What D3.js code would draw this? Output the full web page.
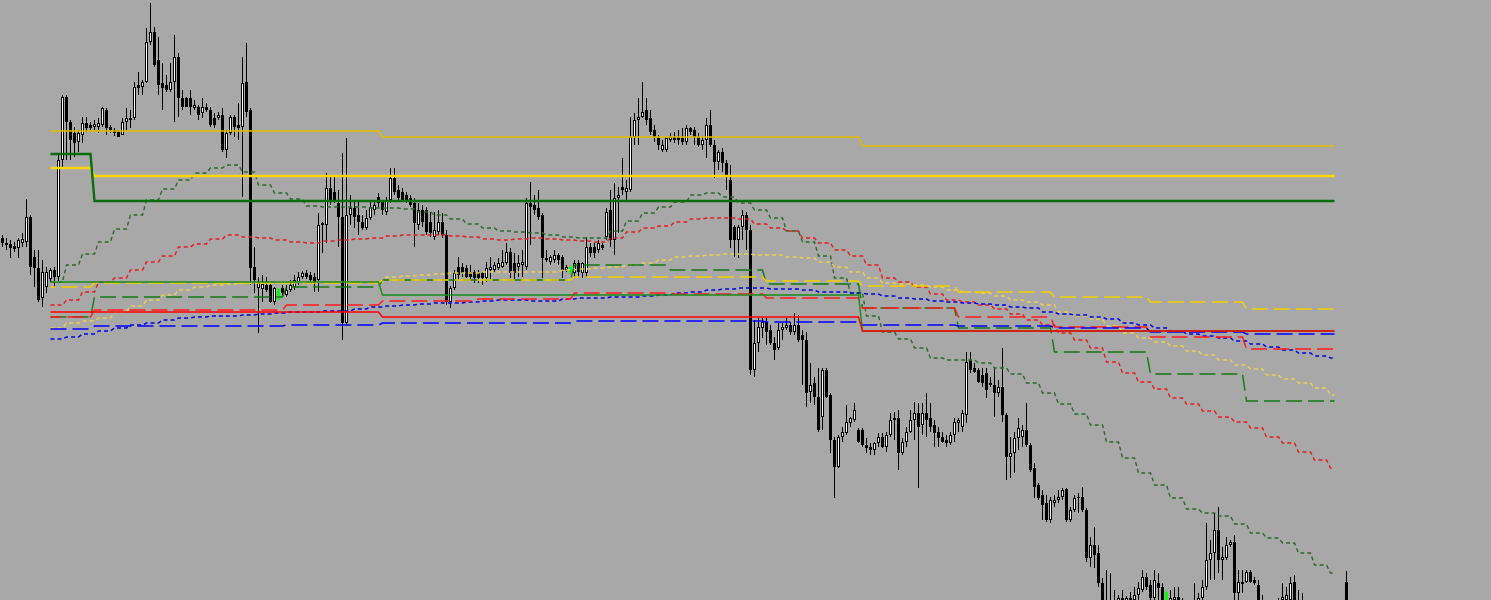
<!DOCTYPE html>
<html><head><meta charset="utf-8">
<script src="https://cdn.jsdelivr.net/npm/d3@7"></script>
<style>html,body{margin:0;padding:0;background:#a8a8a8;overflow:hidden}</style>
</head><body>
<svg id="c" width="1491" height="600"></svg>
<script>
// candles: [open, high, low, close]
const candles = [
[362,365,353,357],[355,362,350,357],[356,360,342,352],[354,358,348,351],[352,362,342,360],[357,367,353,361],[358,401,353,383],[383,385,325,333],[343,350,313,332],[332,350,298,300],
[302,340,293,328],[313,333,307,328],[321,332,318,330],[330,333,313,323],[323,445,318,440],[440,505,432,503],[503,505,440,478],[478,480,440,460],[467,473,443,457],[458,470,448,467],
[465,483,457,477],[477,483,468,472],[475,478,470,472],[473,480,470,476],[473,482,467,477],[475,493,473,492],[490,492,465,472],[473,475,467,470],[470,472,464,467],[468,470,463,463],
[465,482,465,478],[478,492,470,482],[480,490,472,482],[482,518,480,513],[515,528,505,512],[513,520,505,518],[518,572,517,558],[558,597,555,568],[568,573,533,535],[540,563,505,515],
[517,537,490,512],[515,525,508,510],[510,537,508,518],[518,565,478,543],[543,547,483,502],[502,510,490,493],[502,503,493,493],[502,510,485,493],[492,500,490,495],[493,495,480,485],
[487,502,482,493],[493,497,488,490],[490,493,473,475],[482,487,472,475],[482,488,480,485],[485,492,448,450],[450,470,442,467],[467,485,465,483],[483,485,463,473],[475,497,460,472],
[473,543,403,517],[518,557,483,488],[490,492,315,332],[333,353,307,320],[312,323,267,317],[311,325,298,316],[315,323,308,310],[315,317,297,298],[298,313,295,312],[300,312,300,311],
[312,315,303,307],[305,315,303,310],[310,320,308,315],[313,325,310,320],[318,328,315,323],[323,329,321,327],[327,330,321,323],[325,328,317,320],[323,327,308,318],[320,387,308,375],
[375,378,347,377],[375,427,357,412],[412,425,395,400],[408,425,397,400],[397,410,353,383],[383,447,260,277],[277,462,275,385],[385,405,375,392],[392,400,372,383],[385,400,365,378],
[378,385,370,372],[372,390,370,382],[382,400,380,393],[390,400,385,395],[403,407,393,397],[398,400,385,390],[388,403,385,400],[400,432,397,422],[422,432,405,408],[410,415,400,402],
[408,412,398,400],[405,408,397,400],[402,405,393,395],[397,402,353,377],[375,397,370,390],[390,395,373,378],[390,393,365,368],[378,388,363,367],[363,388,360,370],[368,390,365,378],
[378,387,362,365],[365,370,295,298],[298,314,292,312],[312,330,310,327],[333,343,320,325],[333,337,323,327],[332,335,322,323],[328,335,320,323],[328,330,317,322],[327,330,317,322],
[327,328,315,322],[322,338,318,332],[330,343,320,333],[330,338,328,335],[332,342,330,337],[333,350,332,338],[337,357,335,348],[348,352,322,327],[337,347,320,327],[333,345,323,337],
[335,350,323,338],[333,402,330,397],[397,418,355,393],[395,405,385,390],[392,410,380,383],[385,387,322,342],[342,350,338,340],[338,345,335,343],[340,350,337,345],[345,347,335,340],
[343,345,322,330],[330,335,328,333],[328,335,325,333],[327,340,322,337],[337,340,322,328],[327,338,322,337],[327,363,323,353],[353,357,343,347],[353,357,342,347],[350,360,347,357],
[355,357,350,352],[363,392,360,388],[390,410,353,360],[360,417,345,402],[402,413,367,405],[413,442,405,410],[408,420,400,412],[410,483,408,463],[463,487,455,480],[480,502,455,483],
[483,518,482,488],[490,502,475,480],[482,490,465,468],[470,475,458,463],[462,465,450,455],[450,460,448,455],[450,463,448,462],[460,467,458,463],[463,468,457,460],[463,470,455,460],
[462,472,455,458],[458,475,455,472],[472,473,465,468],[470,473,455,463],[463,467,453,455],[455,463,450,460],[460,482,442,475],[475,490,453,455],[455,460,422,438],[438,450,430,448],
[448,452,428,437],[437,440,410,423],[420,435,352,360],[373,375,343,360],[360,375,342,373],[373,390,360,385],[385,388,350,370],[370,375,225,230],[230,280,223,257],[257,282,248,273],
[272,282,262,278],[278,282,255,268],[270,275,255,257],[257,263,240,250],[252,277,250,270],[270,277,260,273],[272,282,270,275],[275,278,265,268],[268,287,265,275],[275,285,258,260],
[265,270,215,260],[260,268,193,207],[208,237,197,215],[217,223,195,203],[203,232,168,170],[183,232,170,230],[230,232,202,203],[205,207,147,160],[160,163,102,133],[133,165,132,163],
[163,173,158,168],[167,195,165,178],[177,183,173,182],[180,197,178,190],[170,172,157,158],[170,172,153,155],[155,162,147,152],[153,157,145,150],[150,158,145,157],[157,167,153,163],
[163,167,152,153],[153,168,148,165],[165,187,163,180],[180,188,160,182],[182,190,130,147],[147,162,145,158],[158,173,153,168],[168,190,167,180],[180,198,160,187],[187,197,112,173],
[175,197,165,187],[187,207,163,180],[182,197,168,173],[175,180,153,167],[168,173,153,162],[163,168,157,158],[160,165,153,157],[157,168,155,165],[165,182,158,178],[177,182,168,180],
[173,190,168,187],[185,248,177,238],[240,248,227,230],[232,237,227,228],[230,232,217,218],[225,232,213,217],[227,232,202,210],[215,223,213,217],[215,233,183,207],[207,220,203,213],
[213,252,178,185],[185,187,120,143],[143,163,122,147],[147,168,127,162],[162,182,150,172],[163,175,153,170],[170,197,153,155],[155,157,128,130],[132,137,102,113],[115,117,100,102],
[105,110,80,95],[97,105,78,80],[80,103,77,100],[97,105,93,100],[100,110,97,103],[103,112,100,110],[111,112,78,80],[80,93,78,90],[90,105,88,102],[103,107,87,102],
[103,113,88,90],[90,92,38,42],[42,63,33,55],[55,73,32,45],[47,55,13,17],[17,22,-10,-5],[0,30,-20,-12],[-3,27,-18,-10],[-8,10,-15,0],[-2,5,-12,2],
[2,10,-15,-5],[-5,4,-12,2],[2,8,-10,-4],[0,13,-5,5],[5,18,0,12],[10,30,8,23],[23,27,10,13],[15,20,0,2],[2,30,0,20],[17,27,0,12],
[13,17,-5,0],[0,10,-5,8],[-3,10,-10,2],[0,13,-5,3],[3,13,-10,-3],[-3,2,-15,-10],[-8,0,-20,-14],[-15,-2,-20,-6],[-6,17,-10,0],[-2,7,-5,2],
[2,20,0,13],[13,77,10,40],[40,60,20,47],[47,87,20,70],[70,93,27,40],[40,53,20,43],[42,63,40,55],[55,60,53,58],[58,65,0,7],[7,30,0,18],
[17,30,7,18],[18,30,17,28],[28,30,17,18],[20,23,15,17],[15,20,-5,0],[0,5,-15,-10],[-8,0,-20,-15],[-15,-5,-20,-10],[-12,0,-18,-5],[-6,2,-12,0],
[0,17,-5,3],[0,13,-5,5],[0,23,-2,17],[18,25,-5,0],[0,10,-12,-8],[-5,7,-18,-12],[-12,-5,-25,-18],[-18,-10,-30,-22],[-22,-12,-32,-15],[-15,-8,-28,-25],
[-25,-15,-35,-20],[-20,-12,-30,-28],[-28,-18,-38,-22],[-22,-15,-32,-30],[-30,-20,-40,-26],[-26,-18,-36,-18],[18,29,-15,-10]
];
const limeBars = [69, 142, 291];

// level lines: one value per session, sessions start at these bars
const segStarts = [12,23,47,71,95,119,143,167,191,215,239,263,287,311];
const segEnd = 333;
const goldThin    = [469,469,469,469,463,463,463,463,463,454,454,454,454,454];
const yellowThick = [432,424,424,424,424,424,424,424,424,424,424,424,424,424];
const greenThick  = [446,399,399,399,399,399,399,399,399,399,399,399,399,399];
const greenSolid  = [318,318,318,318,305,305,305,305,305,269,269,269,269,269];
const redSolid    = [288,288,288,288,283,283,283,283,283,269,269,269,269,269];
const redDash     = [283,290,290,295,299,301,307,306,302,292,283,273,263,251];
const blueDash    = [271,274,274,275,277,277,279,279,278,275,274,272,268,266];
const yellowDash  = [313,317,317,317,320,320,323,323,319,314,308,303,298,291];
const greenDash   = [283,303,303,313,320,320,335,330,316,292,272,248,226,199];

// moving averages from a higher timeframe: one value per 4 bars from bar 12
const dotStart = 12, dotStep = 4;
const greenDot = [318,335,346,358,371,385,400,411,420,427,432,435,428,415,407,401,394,393,393,393,392,392,391,388,385,381,376,372,369,368,367,365,363,362,362,369,379,387,393,398,405,407,403,397,390,382,369,358,344,322,307,284,268,261,252,242,240,240,237,232,226,217,207,196,186,175,158,142,127,115,102,91,87,84,76,67,62,57,47,35,27];
const redDot = [295,300,308,318,322,330,338,344,353,356,361,365,363,362,360,358,357,359,360,361,362,364,365,365,365,364,363,361,360,361,362,361,360,359,358,362,368,372,374,378,381,382,382,381,376,372,369,362,357,350,344,335,322,318,313,306,300,298,295,291,286,280,275,267,260,252,238,227,218,211,202,196,189,183,178,172,163,157,148,140,132];
const yellowDot = [272,277,279,282,288,294,300,305,310,313,315,316,317,317,317,318,318,318,318,318,318,323,324,325,326,327,327,328,328,328,328,328,330,331,332,333,335,337,340,343,344,345,346,346,345,345,343,342,338,333,328,322,317,316,315,313,310,308,307,304,300,298,295,288,284,281,274,267,262,258,254,249,245,240,235,231,225,221,217,212,205];
const blueDot = [261,263,266,269,272,275,277,280,282,283,284,284,285,286,287,288,288,289,289,291,293,294,295,296,297,297,298,299,300,300,299,299,301,302,302,303,303,304,305,307,308,310,311,312,312,311,311,310,308,308,307,306,304,302,301,299,298,297,296,295,293,292,288,286,285,283,281,277,275,272,269,266,264,262,259,256,253,250,247,244,242];

const W = 1491, H = 600;
const x = d3.scaleLinear().domain([0, candles.length - 1]).range([2, 1346]);
const y = d3.scaleLinear().domain([0, 600]).range([600, 0]);
const svg = d3.select('#c');
svg.append('rect').attr('width', W).attr('height', H).attr('fill', '#a8a8a8');

// candles
const cd = candles.map((d, i) => ({i, o: d[0], h: d[1], l: d[2], c: d[3], lime: limeBars.includes(i)}));
const gC = svg.append('g').attr('shape-rendering', 'crispEdges');
gC.selectAll('line.wick').data(cd).join('line').attr('class', 'wick')
  .attr('x1', d => Math.round(x(d.i)) + 0.5).attr('x2', d => Math.round(x(d.i)) + 0.5)
  .attr('y1', d => y(d.h)).attr('y2', d => y(d.l))
  .attr('stroke', d => d.lime ? '#00ff00' : '#000').attr('stroke-width', 1);
gC.selectAll('rect.bear').data(cd.filter(d => d.c < d.o)).join('rect').attr('class', 'bear')
  .attr('x', d => Math.round(x(d.i)) - 1).attr('width', 3)
  .attr('y', d => y(d.o)).attr('height', d => Math.max(1, y(d.c) - y(d.o)))
  .attr('fill', d => d.lime ? '#00ff00' : '#000');
gC.selectAll('rect.bull').data(cd.filter(d => d.c >= d.o)).join('rect').attr('class', 'bull')
  .attr('x', d => Math.round(x(d.i)) - 0.5).attr('width', 2)
  .attr('y', d => y(d.c) + 0.5).attr('height', d => Math.max(0.5, y(d.o) - y(d.c) - 1))
  .attr('fill', d => d.lime ? '#00ff00' : '#fff').attr('stroke', d => d.lime ? '#00ff00' : '#000').attr('stroke-width', 1);

// helpers to expand series to per-bar points
function segSeries(levels) {
  const pts = [];
  for (let b = segStarts[0]; b <= segEnd; b++) {
    let k = 0;
    while (k + 1 < segStarts.length && b >= segStarts[k + 1]) k++;
    pts.push({b, v: levels[k]});
  }
  return pts;
}
function dotSeries(vals) {
  const pts = [];
  for (let b = dotStart; b <= segEnd; b++) {
    const k = Math.min(vals.length - 1, Math.floor((b - dotStart) / dotStep));
    pts.push({b, v: vals[k]});
  }
  return pts;
}
const gL = svg.append('g');
function draw(pts, color, width, dash, offset) {
  const line = d3.line().x(d => x(d.b) + 0.5).y(d => y(d.v));
  gL.append('path').datum(pts).attr('d', line).attr('fill', 'none')
    .attr('stroke', color).attr('stroke-width', width)
    .attr('stroke-dasharray', dash || null)
    .attr('stroke-dashoffset', offset || 0);
}
const DOT = '4,3', DASH = '16,6', T = 1.4;
draw(dotSeries(greenDot), '#2a6a2a', T, DOT);
draw(dotSeries(redDot), '#e41c1c', T, DOT);
draw(dotSeries(yellowDot), '#ecd050', T, DOT);
draw(dotSeries(blueDot), '#0000e6', T, DOT);
draw(segSeries(greenDash), '#107a10', T, DASH);
draw(segSeries(yellowDash), '#f4d000', T, DASH, 11);
draw(segSeries(redDash), '#ff1a1a', T, DASH, 5);
draw(segSeries(blueDash), '#0000ff', T, DASH);
draw(segSeries(greenSolid), '#1a8c1a', T);
draw(segSeries(redSolid), '#ff0000', T);
draw(segSeries(goldThin), '#e6bc00', T);
draw(segSeries(yellowThick), '#ffd800', 2.4);
draw(segSeries(greenThick), '#0b6e0b', 2.4);
</script>
</body></html>
